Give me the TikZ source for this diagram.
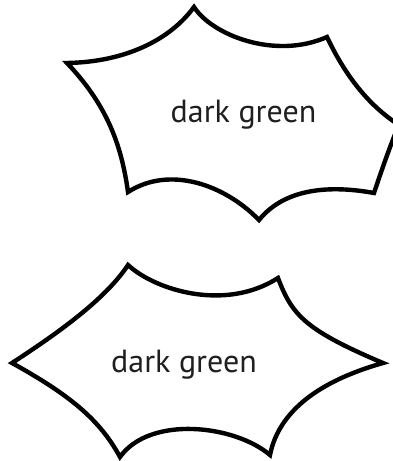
\documentclass[tikz,border=0pt]{standalone}
\usepackage{fontspec}
\setmainfont{PT Sans}
\begin{document}
\begin{tikzpicture}[
  x=1pt, y=-1pt,
  burst/.style={draw, line width=4.4pt, line join=miter, miter limit=20, fill=white},
  lbl/.style={font=\fontsize{32}{36}\selectfont, text=black!88, inner sep=0pt}
]
\useasboundingbox (0,0) rectangle (392,461);
% upper burst
\coordinate (a1) at (67,63);
\coordinate (a2) at (194,7);
\coordinate (a3) at (327,37);
\coordinate (a4) at (399,125);
\coordinate (a5) at (374,193);
\coordinate (a6) at (259,220);
\coordinate (a7) at (128,192);
\draw[burst] (a1) .. controls (125,62) and (170,40) .. (a2)
  .. controls (212,35) and (275,60) .. (a3)
  .. controls (345,75) and (368,105) .. (a4)
  .. controls (392,140) and (380,175) .. (a5)
  .. controls (330,185) and (285,188) .. (a6)
  .. controls (225,185) and (170,165) .. (a7)
  .. controls (122,150) and (110,108) .. cycle;
\node[lbl] (upper) at (243.5,115) {dark green};
% lower burst
\coordinate (b1) at (12,363);
\coordinate (b2) at (128,265);
\coordinate (b3) at (278,278);
\coordinate (b4) at (383,363);
\coordinate (b5) at (270,455);
\coordinate (b6) at (120,457);
\draw[burst] (b1) .. controls (55,335) and (105,300) .. (b2)
  .. controls (155,290) and (225,312) .. (b3)
  .. controls (292,315) and (305,330) .. (b4)
  .. controls (330,378) and (280,405) .. (b5)
  .. controls (235,425) and (150,415) .. (b6)
  .. controls (100,420) and (70,395) .. cycle;
\node[lbl] (lower) at (184,365) {dark green};
\end{tikzpicture}
\end{document}
